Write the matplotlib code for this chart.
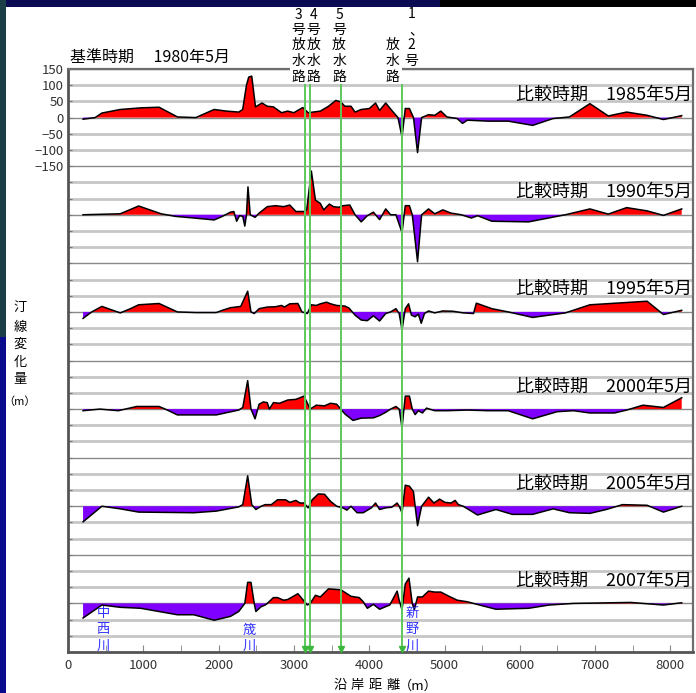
import numpy as np
import matplotlib
matplotlib.use("Agg")
import matplotlib.pyplot as plt
import matplotlib.transforms as mtransforms
from matplotlib.patches import Rectangle

plt.rcParams['font.family'] = ['Noto Sans CJK JP', 'DejaVu Sans']

# ---- shoreline change data (m) along the coast (distance in m) ----
x_1985 = [200, 360, 450, 694, 965, 1209, 1453, 1697, 1941, 2104, 2267, 2320, 2370, 2400, 2440, 2490,
          2576, 2646, 2728, 2836, 2918, 2999, 3118, 3189, 3351, 3460, 3557, 3623, 3677, 3758, 3812,
          3894, 4002, 4084, 4138, 4219, 4300, 4382, 4436, 4479, 4534, 4588, 4642, 4696, 4788, 4870,
          4951, 5032, 5168, 5239, 5304, 5575, 5846, 6171, 6442, 6659, 6931, 7175, 7419, 7690, 7907,
          8069, 8150]
y_1985 = [-5, 0, 14, 25, 30, 32, 2, 0, 25, 20, 17, 25, 100, 125, 128, 33,
          45, 35, 33, 15, 20, 15, 31, 15, 20, 35, 53, 48, 35, 35, 17,
          25, 28, 45, 22, 45, 22, 0, -60, 28, 28, 0, -108, 0, 9, 7,
          20, 2, -3, -18, -8, -11, -11, -24, -3, 2, 43, 5, 17, 7, -6,
          2, 6]

x_1990 = [200, 694, 938, 1236, 1426, 1670, 1941, 2050, 2158, 2202, 2240, 2278, 2321, 2348, 2370,
          2390, 2420, 2484, 2538, 2646, 2755, 2863, 2945, 3026, 3134, 3170, 3232, 3286, 3351, 3395,
          3471, 3525, 3595, 3650, 3742, 3812, 3894, 3975, 4056, 4138, 4219, 4284, 4355, 4436, 4479,
          4534, 4572, 4642, 4696, 4788, 4870, 4978, 5087, 5222, 5358, 5439, 5629, 6117, 6605, 6931,
          7175, 7419, 7690, 7907, 8150]
y_1990 = [0, 3, 27, 3, -5, -10, -16, -5, 8, 10, -20, -3, -5, -35, 0,
          86, 0, -8, 5, 25, 28, 25, 30, 10, 10, 15, 135, 45, 35, 15,
          33, 25, 23, 28, 30, 0, -22, -3, 8, -15, 18, 0, 0, -55, 28,
          28, 0, -145, 0, 18, 3, 15, 5, 0, -10, -3, -20, -22, 0, 18,
          2, 22, 12, -2, 18]

x_1995 = [200, 315, 450, 559, 694, 830, 938, 1209, 1453, 1697, 1969, 2050, 2158, 2294, 2386, 2430,
          2473, 2538, 2646, 2755, 2836, 2874, 2945, 3053, 3107, 3178, 3232, 3297, 3351, 3433, 3487,
          3568, 3677, 3731, 3812, 3894, 3975, 4056, 4138, 4219, 4284, 4355, 4398, 4436, 4479, 4523,
          4561, 4610, 4653, 4691, 4734, 4788, 4870, 4978, 5114, 5249, 5385, 5423, 5629, 5846, 6171,
          6605, 6931, 7690, 7907, 8150]
y_1995 = [-20, 0, 17, 8, -3, 10, 22, 26, 0, -2, -2, 5, 13, 17, 64, 0,
          -5, 10, 15, 16, 20, 15, 25, 26, 0, -5, 22, 20, 25, 30, 25,
          20, 18, 12, -10, -25, -27, -12, -28, -5, 0, 10, -5, -55, 10, 25,
          -10, -15, -7, -35, -5, 3, -3, 3, 2, -3, -5, 27, 10, 0, -17,
          -3, 22, 33, -8, 5]

x_2000 = [200, 423, 667, 911, 1209, 1291, 1453, 1969, 2267, 2321, 2386, 2430, 2484, 2538, 2592,
          2646, 2674, 2728, 2809, 2918, 3026, 3134, 3216, 3297, 3406, 3487, 3568, 3623, 3677, 3785,
          3894, 4056, 4138, 4219, 4284, 4355, 4398, 4436, 4479, 4534, 4572, 4610, 4653, 4707, 4761,
          4870, 5032, 5304, 5575, 5846, 6171, 6497, 6713, 6931, 7256, 7419, 7636, 7907, 8150]
y_2000 = [-5, 0, -5, 8, 8, 0, -18, -18, -3, 5, 88, 0, -30, 15, 22,
          20, 0, 20, 18, 28, 30, 40, 0, 12, 10, 18, 15, 0, -15, -35,
          -28, -27, -20, -10, 0, 8, 0, -57, 40, 40, 0, -17, -5, -12, 3,
          -5, -5, -3, -5, -5, -30, -8, -5, -12, -12, -3, 12, 5, 35]

x_2005 = [200, 450, 694, 938, 1670, 1969, 2267, 2321, 2386, 2440, 2495, 2565, 2619, 2701, 2782,
          2890, 2945, 3026, 3080, 3134, 3189, 3243, 3324, 3406, 3487, 3568, 3650, 3704, 3758, 3839,
          3921, 4029, 4084, 4138, 4219, 4300, 4371, 4398, 4436, 4479, 4534, 4588, 4610, 4642, 4696,
          4788, 4859, 4935, 5005, 5087, 5141, 5184, 5249, 5439, 5683, 5900, 6171, 6442, 6659, 6931,
          7148, 7364, 7690, 7907, 8150]
y_2005 = [-48, 0, -8, -18, -20, -15, -2, 5, 94, 5, -10, 0, 5, 5, 20,
          20, 12, 18, 10, 10, -5, 20, 38, 37, 15, 0, -5, -12, 0, -20,
          -20, -5, 10, -10, -5, -3, 10, 0, -20, 65, 62, 45, 0, -60, 0,
          28, 10, 22, 12, 10, 18, 5, 0, -27, -10, -25, -25, -8, -20, -22,
          -10, 5, 3, -18, 0]

x_2007 = [200, 450, 694, 965, 1453, 1670, 1941, 2158, 2267, 2348, 2386, 2430, 2473, 2495, 2565,
          2619, 2646, 2728, 2782, 2863, 2918, 3053, 3107, 3178, 3216, 3286, 3351, 3460, 3623, 3758,
          3867, 3921, 3975, 4056, 4138, 4219, 4273, 4371, 4398, 4436, 4479, 4528, 4572, 4599, 4642,
          4707, 4788, 4870, 4951, 5059, 5168, 5304, 5466, 5683, 6117, 6388, 6713, 7473, 7907, 8150]
y_2007 = [-45, -5, -12, -15, -35, -35, -52, -40, -25, 0, 65, 65, 0, -25, -10,
          -5, 0, 18, 18, 10, 12, 30, 15, -5, 0, 25, 20, 45, 42, 22,
          18, 5, -15, -3, -18, -10, -5, 38, 10, -20, 60, 78, 0, -20, 20,
          20, 38, 35, 35, 22, 10, 5, -5, -18, -15, -5, 0, 3, -5, 2]

years = ["1985", "1990", "1995", "2000", "2005", "2007"]
series_x = [x_1985, x_1990, x_1995, x_2000, x_2005, x_2007]
series_y = [y_1985, y_1990, y_1995, y_2000, y_2005, y_2007]

# outfall channel positions (m), river mouth labels
channel_x = [3150, 3215, 3620, 4430]
rivers = [("中西川", 465), ("筬川", 2410), ("新野川", 4572)]

panel_gap = 300
W, H = 696, 693
fig = plt.figure(figsize=(W / 100, H / 100), dpi=100)
ax = fig.add_axes([68 / W, 1 - 652 / H, 625 / W, 583 / H])

x0, x1 = 0, 8300
y0, y1 = -5 * panel_gap - 150, 150
ax.set_xlim(x0, x1)
ax.set_ylim(y0, y1)

# horizontal grid
for g in np.arange(y0, y1 + 1, 50):
    if g % 150 == 0:
        ax.axhline(g, color='#8a8a8a', lw=1.0, zorder=0.5)
    else:
        ax.axhline(g, color='#c6c6c6', lw=2.0, zorder=0.4)

RED = '#ff0000'
PURPLE = '#7f00ff'
for i, (xs, ys) in enumerate(zip(series_x, series_y)):
    off = -panel_gap * i
    xs = np.asarray(xs, float)
    ys = np.asarray(ys, float)
    ax.fill_between(xs, off + ys, off, where=ys >= 0, interpolate=True,
                    color=RED, lw=0, zorder=2)
    ax.fill_between(xs, off + ys, off, where=ys <= 0, interpolate=True,
                    color=PURPLE, lw=0, zorder=2)
    ax.plot(xs, off + ys, color='black', lw=1.1, zorder=3)
    ax.text(8290, off + 70, "比較時期　" + years[i] + "年5月", ha='right', va='center',
            fontsize=13, zorder=6)

# outfall channel lines with arrow heads
for cx in channel_x:
    ax.plot([cx, cx], [100, y0 + 6], color='#5cc85c', lw=1.4, zorder=4, clip_on=False)
    ax.plot([cx], [y0 + 10], marker='v', color='#3cb83c', ms=4.5, zorder=4)

# axes styling
for s in ax.spines.values():
    s.set_color('#6e6e6e')
    s.set_linewidth(1.6)
ax.spines['left'].set_color('#555555')
ax.spines['bottom'].set_color('#555555')
ax.spines['left'].set_linewidth(2)
ax.spines['bottom'].set_linewidth(2)

ax.set_xticks(np.arange(0, 8001, 1000))
ax.set_xticks(np.arange(500, 8300, 1000), minor=True)
ax.set_xticklabels([str(v) for v in range(0, 8001, 1000)], fontsize=9.5, color='#333333')
ax.tick_params(axis='x', which='both', direction='in', length=5, color='#888888', pad=5)

yt = np.arange(y0, y1 + 1, 50)
ax.set_yticks(yt)
ax.set_yticklabels([(str(int(v)).replace('-', '−') if v >= -150 else '') for v in yt],
                   fontsize=9.5, color='#333333')
ax.tick_params(axis='y', direction='in', length=3, color='#777777', pad=3)

# white block behind the vertical channel labels
fig.patches.append(Rectangle((290 / W, 1 - 82 / H), 112 / W, 82 / H,
                             transform=fig.transFigure, facecolor='white',
                             edgecolor='none', zorder=3))

bt = mtransforms.blended_transform_factory(ax.transData, fig.transFigure)


def column(chars, xdata, rows, **kw):
    for ch, r in zip(chars, rows):
        fig.text(xdata, 1 - r / H, ch, transform=bt, ha='center', va='center', zorder=5, **kw)


rows5 = [15, 30, 45, 61, 77]
column("3号放水路", 3060, rows5, fontsize=10)
column("4号放水路", 3260, rows5, fontsize=10)
column("5号放水路", 3600, rows5, fontsize=10)
column("1", 4560, [14], fontsize=10)
column("、", 4620, [30], fontsize=10)
column("2号", 4560, [45, 61], fontsize=10)
column("放水路", 4310, [45, 61, 77], fontsize=10)

# river names near the bottom
for name, rx in rivers:
    rws = [613, 630, 646][-len(name):]
    column(name, rx, rws, fontsize=9.5, color='#3030ff')

# title
fig.text(70 / W, 1 - 57 / H, "基準時期　 1980年5月", ha='left', va='center', fontsize=11.5)

# y axis label (vertical)
for ch, r in zip("汀線変化量", [308, 327, 344, 362, 380]):
    fig.text(20 / W, 1 - r / H, ch, ha='center', va='center', fontsize=9.5)
fig.text(20 / W, 1 - 402 / H, "（m）", ha='center', va='center', fontsize=8)

# x axis label
for ch, px in zip("沿岸距離", [340, 357, 375, 393]):
    fig.text(px / W, 1 - 686 / H, ch, ha='center', va='center', fontsize=9.5)
fig.text(418 / W, 1 - 686 / H, "（m）", ha='center', va='center', fontsize=9.5)

# slide frame strips
fig.patches.append(Rectangle((0, 1 - 7 / H), 440 / W, 7 / H, transform=fig.transFigure,
                             facecolor='#0b0b55', edgecolor='none', zorder=10))
fig.patches.append(Rectangle((440 / W, 1 - 7 / H), 1, 7 / H, transform=fig.transFigure,
                             facecolor='#000000', edgecolor='none', zorder=10))
fig.patches.append(Rectangle((0, 1 - 337 / H), 6 / W, 337 / H, transform=fig.transFigure,
                             facecolor='#1c3f47', edgecolor='none', zorder=10))
fig.patches.append(Rectangle((0, 0), 6 / W, 1 - 337 / H, transform=fig.transFigure,
                             facecolor='#0a0a8c', edgecolor='none', zorder=10))

fig.savefig("out.png", dpi=100)
